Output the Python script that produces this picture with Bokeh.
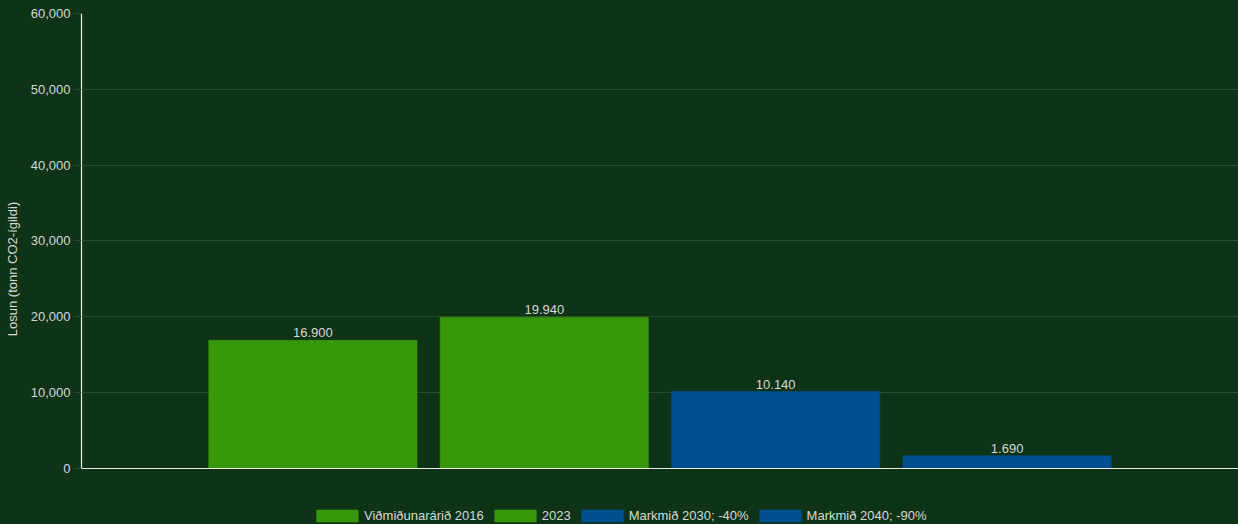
from bokeh.plotting import figure
from bokeh.models import (FactorRange, Range1d, ColumnDataSource, NumeralTickFormatter,
                          Legend, LegendItem, FixedTicker, Span)
from bokeh.core.properties import value
from bokeh.embed import file_html
from bokeh.resources import INLINE

series = ["Viðmiðunarárið 2016", "2023", "Markmið 2030; -40%", "Markmið 2040; -90%"]
values = [16900, 19940, 10140, 1690]
colors = ["#38980c", "#38980c", "#044f8f", "#044f8f"]
y_ticks = [0, 10000, 20000, 30000, 40000, 50000, 60000]
y_title = "Losun (tonn CO2-ígildi)"

BG = "#0f3317"
GRID = "#2b4a2f"
TXT = "#d6d9d4"
FONT = "Liberation Sans"

labels = [f"{v:,}".replace(",", ".") for v in values]
src = ColumnDataSource(dict(x=series, top=values, color=colors, label=labels))

# frame runs below y=0 so that the legend can sit under the baseline
p = figure(width=1238, height=524, output_backend="svg", toolbar_location=None,
           x_range=FactorRange(factors=series, range_padding=0.25),
           y_range=Range1d(-7385, 60000),
           background_fill_color=None, border_fill_color=BG,
           min_border_top=13, min_border_left=81, min_border_right=0, min_border_bottom=0)
p.styles = {"background-color": BG}
p.outline_line_color = None

r = p.vbar(x="x", top="top", bottom=0, width=0.9, source=src, fill_color="color",
           line_color="color", line_alpha=0.6)
p.text(x="x", y="top", text="label", source=src, y_offset=-3,
       text_align="center", text_baseline="bottom", text_color=TXT,
       text_font=value(FONT), text_font_size="13px")

# axes
p.yaxis.ticker = FixedTicker(ticks=y_ticks)
p.yaxis.bounds = (0, 60000)
p.yaxis.formatter = NumeralTickFormatter(format="0,0")
p.yaxis.axis_label = y_title
p.yaxis.axis_label_text_font = FONT
p.yaxis.axis_label_text_font_style = "normal"
p.yaxis.axis_label_text_font_size = "13px"
p.yaxis.axis_label_text_color = TXT
p.yaxis.axis_label_standoff = 8
p.yaxis.major_label_text_font = FONT
p.yaxis.major_label_text_font_size = "13px"
p.yaxis.major_label_text_color = TXT
p.yaxis.axis_line_color = "#e8ebe6"
p.yaxis.axis_line_width = 1.2
p.yaxis.major_tick_line_color = GRID
p.yaxis.major_tick_out = 8
p.yaxis.major_tick_in = 0
p.yaxis.minor_tick_line_color = None
p.yaxis.major_label_standoff = 3

p.xaxis.visible = False
p.add_layout(Span(location=0, dimension="width", line_color="#e8ebe6", line_width=1.2))

p.xgrid.grid_line_color = None
p.ygrid.grid_line_color = GRID
p.ygrid.grid_line_width = 1

# legend, drawn below the baseline
items = []
for i, s in enumerate(series):
    items.append(LegendItem(label=s, renderers=[r], index=i))
legend = Legend(items=items, orientation="horizontal", location=(230, 1),
                background_fill_alpha=0, border_line_color=None,
                label_text_color=TXT, label_text_font=FONT, label_text_font_size="13px",
                glyph_width=52, glyph_height=15, spacing=5, label_standoff=1,
                padding=0, margin=0)
p.add_layout(legend)

open("out.html", "w").write(file_html(p, INLINE))
